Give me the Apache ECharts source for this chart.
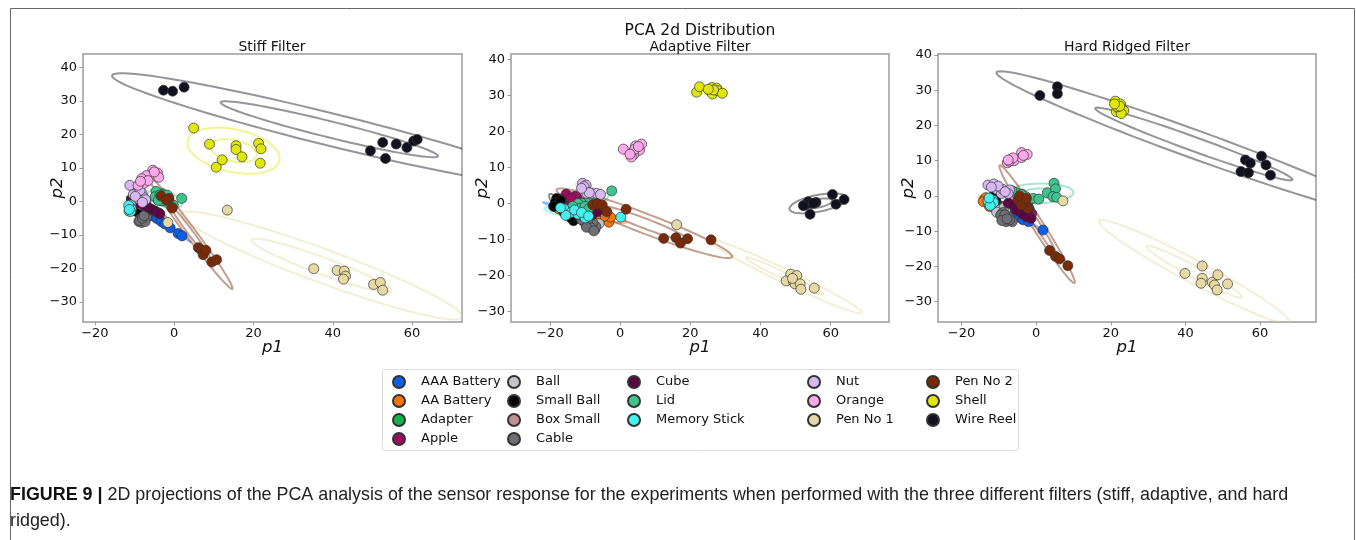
<!DOCTYPE html>
<html>
<head>
<meta charset="utf-8">
<script src="https://cdn.jsdelivr.net/npm/echarts@6/dist/echarts.min.js"></script>
<style>
  html, body { margin: 0; padding: 0; background: #fff; }
  #chart { width: 1356px; height: 540px; }
</style>
</head>
<body>
<div id="chart"></div>
<script>
// classes, in legend order
const CATEGORIES = ['AAA Battery', 'AA Battery', 'Adapter', 'Apple', 'Ball', 'Small Ball', 'Box Small', 'Cable',
  'Cube', 'Lid', 'Memory Stick', 'Nut', 'Orange', 'Pen No 1', 'Pen No 2', 'Shell', 'Wire Reel']
const COLORS = ['#0a5ee8', '#f97306', '#10b24a', '#9a0d63', '#c4c4cc', '#000000', '#c09090', '#6e6e74',
  '#5e0342', '#3cc48e', '#40f5f0', '#d8b8f2', '#fca8ea', '#e6d9a4', '#7a2b06', '#e1e60a', '#12121f']

const PANEL_TITLES = ['Stiff Filter', 'Adaptive Filter', 'Hard Ridged Filter']
const X_LIMITS = [[-23, 72.6], [-31.1, 76.6], [-26.3, 75]]
const Y_LIMITS = [[-36, 44], [-32.9, 41.5], [-35.8, 40.3]]

// PCA scores [p1, p2], one list per class (same order as CATEGORIES)
const STIFF = [
  [[-10.2, -0.3], [-8.8, -1.4], [-6.6, -3.2], [-5.2, -4.4], [-4.4, -5.1], [-3.3, -6.0], [-2.4, -6.7], [-1.0, -7.9], [1.0, -9.6], [2.0, -10.3]],
  [[-9.4, -0.9], [-8.8, -1.6], [-9.9, -1.3], [-8.3, -2.1], [-9.1, -2.4], [-10.2, -0.6], [-8.6, -0.7], [-9.7, -2.0], [-7.9, -1.5], [-9.0, -1.1]],
  [[-3.5, 1.6], [-2.8, 0.9], [-4.1, 0.6], [-2.2, 1.8], [-3.0, 2.3], [-1.8, 0.4], [-3.8, 1.2], [-2.5, 0.1], [-4.4, 2.0], [-1.5, 1.3]],
  [[-10.8, 0.6], [-10.3, 0.0], [-9.9, 0.8], [-10.9, -0.4], [-9.5, 0.2], [-10.5, 1.1], [-10.0, -0.6], [-9.3, 0.7], [-10.7, 0.3], [-9.8, -0.2]],
  [[-9.0, 1.4], [-8.4, 0.5], [-9.6, 0.6], [-8.0, 1.2], [-8.9, -0.2], [-9.8, 1.6], [-8.6, 1.9], [-7.7, 0.3], [-9.3, 0.0], [-8.2, -0.6]],
  [[-9.1, -2.6], [-8.6, -1.5], [-9.8, -1.0], [-8.2, -2.9], [-9.4, -3.1], [-10.2, -0.4], [-8.8, -2.0], [-7.9, -1.2], [-9.6, -1.9], [-8.5, -3.4]],
  [[-8.6, -0.4], [-8.0, 0.3], [-7.4, -0.8], [-8.9, 0.8], [-7.8, -1.3], [-7.1, 0.1], [-8.3, -1.0], [-9.2, 0.1], [-7.6, 0.6], [-8.1, -0.2]],
  [[-8.5, -5.2], [-7.8, -4.6], [-8.9, -6.0], [-7.5, -5.5], [-8.2, -6.3], [-7.0, -4.9], [-8.7, -5.7], [-7.3, -6.0], [-8.0, -5.0], [-7.6, -4.3]],
  [[-10.7, 0.6], [-9.6, 0.0], [-8.5, -0.6], [-7.5, -1.2], [-6.5, -1.8], [-5.6, -2.4], [-4.8, -2.9], [-4.0, -3.4], [-3.6, -3.7], [-9.0, -0.4]],
  [[-4.6, 3.0], [-4.8, 1.4], [-3.6, 1.9], [-2.6, 0.8], [-3.2, 0.2], [-0.2, -1.1], [1.9, 0.9], [-0.6, -1.6], [-1.8, 1.9], [-4.0, 0.3]],
  [[-11.3, -1.4], [-11.0, -2.6], [-11.2, -2.0], [-10.9, -1.0], [-11.4, -2.9], [-11.1, -1.7], [-10.8, -2.3], [-11.5, -1.2], [-11.0, -3.0], [-11.3, -2.4]],
  [[-11.2, 4.8], [-9.5, 2.5], [-8.1, 2.4], [-7.8, 1.2], [-9.2, 0.9], [-10.3, 2.0], [-8.6, 3.3], [-7.2, 0.5], [-9.8, 1.5], [-8.0, -0.3]],
  [[-5.4, 9.3], [-4.2, 8.4], [-3.9, 7.2], [-7.0, 7.7], [-8.2, 6.8], [-7.6, 5.4], [-9.1, 4.8], [-6.6, 6.2], [-5.0, 8.8], [-8.5, 6.0]],
  [[13.4, -2.6], [-1.6, -6.3], [35.2, -20.1], [41.1, -20.6], [42.9, -20.8], [43.2, -22.3], [42.7, -23.2], [50.3, -24.8], [52.0, -24.2], [52.6, -26.5]],
  [[-1.3, 0.9], [-0.5, -2.0], [-3.3, 1.6], [-2.0, 0.5], [6.1, -13.8], [6.9, -14.6], [7.3, -15.9], [8.0, -14.6], [9.5, -18.1], [10.7, -17.4]],
  [[4.9, 21.9], [8.9, 17.1], [10.6, 10.2], [12.1, 12.4], [15.6, 16.6], [15.6, 15.5], [17.1, 13.3], [21.3, 17.3], [21.9, 15.7], [21.7, 11.4]],
  [[-2.7, 33.2], [-0.4, 32.9], [2.5, 34.1], [49.5, 15.1], [52.6, 17.6], [53.3, 12.8], [56.0, 17.1], [58.7, 16.1], [60.4, 18.0], [61.3, 18.5]]
]

const ADAPTIVE = [
  [[-19.0, -0.8], [-17.5, -1.2], [-16.0, -1.7], [-14.0, -2.2], [-12.0, -2.8], [-10.5, -3.4], [-9.0, -3.9], [-7.2, -5.0], [-18.2, -1.0], [-15.0, -2.0]],
  [[-5.3, -4.1], [-3.2, -5.2], [-2.7, -3.8], [-4.5, -3.5], [-16.0, -2.0], [-17.5, -1.5], [-14.0, -2.5], [-12.0, -3.0], [-9.0, -3.2], [-7.0, -3.8]],
  [[-8.0, -0.5], [-7.0, 0.2], [-9.0, -1.0], [-6.0, -1.0], [-10.0, 0.3], [-7.5, -1.5], [-8.5, 0.5], [-6.5, -0.3], [-9.5, -0.2], [-7.2, -0.8]],
  [[-15.4, 2.6], [-12.4, 1.7], [-14.2, 0.8], [-16.5, 0.2], [-13.3, -0.5], [-11.5, 0.3], [-15.0, -1.0], [-17.0, 1.2], [-12.8, 2.0], [-14.0, 1.5]],
  [[-16.0, -2.0], [-14.0, -3.0], [-12.0, -3.8], [-10.0, -4.5], [-8.0, -5.0], [-6.0, -5.6], [-13.0, -2.5], [-11.0, -4.0], [-9.0, -4.2], [-15.0, -2.6]],
  [[-18.1, 1.4], [-18.5, 0.2], [-17.6, -0.5], [-13.3, -4.8], [-17.0, 0.8], [-16.5, -1.5], [-15.0, -3.0], [-14.0, -4.0], [-18.8, -0.8], [-16.0, -2.5]],
  [[-12.0, -0.8], [-11.0, -1.6], [-10.0, -2.4], [-9.0, -1.0], [-13.0, -2.0], [-8.0, -2.0], [-11.5, -0.5], [-9.5, -3.0], [-12.5, -1.2], [-10.5, -1.8]],
  [[-10.0, -5.5], [-8.6, -6.2], [-7.2, -7.2], [-6.9, -6.4], [-7.8, -5.3], [-9.3, -5.0], [-8.2, -6.8], [-11.0, -4.5], [-9.6, -6.6], [-7.5, -7.6]],
  [[-13.0, -1.5], [-11.0, -2.0], [-9.0, -2.5], [-7.0, -1.0], [-12.0, -3.0], [-10.0, -1.0], [-8.0, -3.2], [-14.0, -2.4], [-6.5, -2.3], [-10.5, -3.5]],
  [[-2.4, 3.5], [-8.1, 0.8], [-9.7, 0.2], [-11.0, 0.1], [-12.0, 0.0], [-11.4, -1.3], [-10.0, -0.8], [-7.5, -0.2], [-13.5, -0.8], [-9.0, -1.5]],
  [[0.2, -3.8], [-16.0, -1.5], [-14.0, -2.5], [-12.0, -3.0], [-10.0, -4.0], [-13.0, -1.8], [-15.5, -3.3], [-11.0, -2.5], [-9.0, -3.5], [-17.0, -1.2]],
  [[-10.7, 5.6], [-9.7, 5.1], [-10.0, 3.8], [-9.5, 2.8], [-8.1, 2.8], [-6.7, 2.8], [-5.6, 2.5], [-10.3, 4.7], [-8.8, 3.0], [-11.0, 4.2]],
  [[0.9, 15.1], [3.5, 14.2], [4.4, 16.0], [5.5, 14.8], [6.1, 16.5], [3.8, 13.5], [3.2, 12.9], [4.2, 15.1], [5.2, 15.8], [2.8, 13.7]],
  [[16.1, -5.9], [48.6, -19.6], [50.3, -20.0], [47.3, -21.5], [49.4, -21.7], [49.8, -22.3], [51.3, -22.3], [51.5, -23.8], [55.3, -23.5], [49.1, -20.8]],
  [[-7.8, -0.4], [-6.5, -0.1], [-5.1, -0.4], [-3.8, -2.3], [1.7, -1.6], [12.4, -9.7], [15.9, -9.5], [17.2, -11.0], [19.2, -9.8], [25.9, -10.1]],
  [[21.8, 30.9], [22.6, 32.4], [25.4, 31.5], [26.1, 32.2], [26.3, 30.4], [27.5, 32.0], [27.8, 31.3], [29.1, 30.6], [26.6, 31.5], [25.1, 31.7]],
  [[52.7, -0.4], [53.6, 0.5], [54.3, 0.05], [55.8, 0.3], [54.1, -3.0], [60.5, 2.5], [61.5, -0.2], [63.8, 1.1], [52.2, -0.6], [55.1, 0.05]]
]

const HARD_RIDGED = [
  [[1.85, -9.7], [-11.1, -2.1], [-9.5, -2.9], [-8.0, -3.8], [-6.6, -4.9], [-5.5, -5.4], [-4.4, -6.1], [-3.5, -6.8], [-2.0, -7.3], [-10.3, -2.6]],
  [[-13.9, -1.1], [-12.9, -1.9], [-11.1, -3.5], [-10.2, -4.0], [-12.0, -2.6], [-13.5, -0.5], [-11.5, -1.5], [-9.5, -3.5], [-12.5, -3.0], [-14.2, -1.6]],
  [[-4.2, -1.2], [-3.4, -1.8], [-2.5, -1.4], [-5.0, -1.8], [-3.0, -0.8], [-4.6, -0.6], [-2.2, -2.2], [-3.8, -2.5], [-5.4, -1.0], [-2.8, -1.6]],
  [[-5.3, -3.0], [-4.5, -2.4], [-3.6, -3.3], [-2.8, -2.6], [-1.9, -3.6], [-4.0, -4.2], [-2.2, -4.8], [-3.2, -5.3], [-1.2, -5.0], [-5.8, -2.2]],
  [[-9.5, -3.8], [-8.8, -4.4], [-10.0, -4.9], [-9.2, -5.8], [-8.2, -4.0], [-10.3, -3.5], [-9.6, -5.2], [-8.6, -3.3], [-10.6, -4.6], [-9.0, -6.2]],
  [[-11.5, -0.7], [-11.2, -1.3], [-11.9, -0.4], [-11.0, -0.9], [-11.6, -1.6], [-12.0, -1.0], [-11.3, -0.2], [-10.8, -1.4], [-11.8, -1.9], [-11.4, -1.1]],
  [[-5.0, 0.3], [-4.0, 0.0], [-3.2, -0.5], [-5.5, -0.3], [-4.5, -0.8], [-3.8, 0.5], [-6.0, 0.1], [-2.8, -0.2], [-4.8, 0.6], [-3.5, -1.0]],
  [[-8.9, -4.7], [-8.9, -6.4], [-7.5, -5.9], [-6.4, -7.3], [-8.0, -7.3], [-9.5, -5.4], [-8.4, -5.4], [-7.1, -6.8], [-9.2, -7.0], [-7.8, -6.5]],
  [[-7.5, -2.1], [-4.8, -3.0], [-2.3, -4.9], [-1.4, -6.4], [-4.4, -4.5], [-3.1, -4.0], [-6.2, -2.6], [-2.6, -5.9], [-5.3, -4.0], [-3.5, -5.2]],
  [[-0.8, -0.7], [0.7, -0.9], [3.0, 0.9], [4.8, 3.6], [5.2, 2.0], [4.5, -0.2], [5.5, -0.4], [-5.5, 1.0], [-4.0, 0.4], [-6.5, 1.5]],
  [[-12.2, -1.6], [-11.6, -1.2], [-12.8, -2.0], [-11.9, -2.4], [-12.5, -1.0], [-12.0, -2.0], [-12.9, -1.4], [-11.4, -1.9], [-12.3, -2.7], [-12.6, -0.6]],
  [[-12.9, 3.1], [-11.3, 3.4], [-10.6, 1.9], [-9.3, 0.7], [-9.0, 1.9], [-7.1, 1.7], [-7.5, 0.7], [-10.2, 2.8], [-8.3, 1.2], [-12.0, 2.5]],
  [[-7.7, 9.4], [-6.8, 10.4], [-5.9, 10.0], [-3.9, 12.3], [-3.9, 10.9], [-2.4, 11.8], [-7.2, 9.9], [-6.2, 10.8], [-3.4, 11.5], [-7.5, 10.2]],
  [[7.2, -1.4], [39.9, -22.0], [44.5, -19.9], [44.5, -23.4], [44.2, -24.8], [47.2, -24.5], [47.8, -25.3], [48.5, -26.7], [48.7, -22.4], [51.3, -25.0]],
  [[3.6, -15.5], [5.2, -17.2], [6.3, -17.9], [8.5, -19.8], [-4.8, -1.1], [-3.1, -1.9], [-2.2, -3.5], [-3.9, -2.6], [-4.4, 0.0], [-2.6, -0.7]],
  [[21.2, 26.9], [22.6, 26.1], [23.3, 24.4], [21.5, 23.9], [22.1, 24.9], [23.5, 24.2], [22.8, 23.4], [21.7, 25.3], [22.4, 25.5], [21.0, 26.1]],
  [[1.0, 28.5], [5.7, 31.0], [5.7, 29.0], [56.1, 10.2], [57.4, 9.3], [60.4, 11.3], [61.6, 8.8], [62.8, 5.9], [54.9, 6.9], [56.9, 6.6]]
]

const PANELS = [STIFF, ADAPTIVE, HARD_RIDGED]
const N_STD = [1, 2]
const LEGEND_COLUMNS = [[0, 1, 2, 3], [4, 5, 6, 7], [8, 9, 10], [11, 12, 13], [14, 15, 16]]

const FONT = 'DejaVu Sans'
const GRID_LEFT = [83, 511, 938]
const Y_NAME_GAP = [17, 20, 21]

function rgba(hex, a) {
  const n = parseInt(hex.slice(1), 16)
  return 'rgba(' + (n >> 16) + ',' + ((n >> 8) & 255) + ',' + (n & 255) + ',' + a + ')'
}

// mean, sample std and pearson r of a point cloud (same as np.cov)
function stats(points) {
  const n = points.length
  let mx = 0, my = 0
  points.forEach(p => { mx += p[0]; my += p[1] })
  mx /= n; my /= n
  let sxx = 0, syy = 0, sxy = 0
  points.forEach(p => {
    sxx += (p[0] - mx) * (p[0] - mx)
    syy += (p[1] - my) * (p[1] - my)
    sxy += (p[0] - mx) * (p[1] - my)
  })
  sxx /= (n - 1); syy /= (n - 1); sxy /= (n - 1)
  const sx = Math.sqrt(sxx), sy = Math.sqrt(syy)
  const rho = sx > 0 && sy > 0 ? sxy / (sx * sy) : 0
  return [mx, my, sx, sy, rho]
}

// confidence ellipse, drawn in data space then mapped through the axes
function renderEllipse(color) {
  return function(params, api) {
    const mx = api.value(0), my = api.value(1), sx = api.value(2), sy = api.value(3)
    const rho = Math.max(-0.9999, Math.min(0.9999, api.value(4))), k = api.value(5)
    const rx = Math.sqrt(1 + rho), ry = Math.sqrt(1 - rho)
    const pts = []
    for (let i = 0; i <= 90; i++) {
      const t = i / 90 * Math.PI * 2
      const u = rx * Math.cos(t), v = ry * Math.sin(t)
      const a = (u - v) * Math.SQRT1_2, b = (u + v) * Math.SQRT1_2
      pts.push(api.coord([mx + a * sx * k, my + b * sy * k]))
    }
    const cs = params.coordSys
    return {
      type: 'polyline',
      shape: { points: pts },
      style: { fill: null, stroke: rgba(color, 0.45), lineWidth: 2 },
      clipPath: { type: 'rect', shape: { x: cs.x, y: cs.y, width: cs.width, height: cs.height } },
      silent: true
    }
  }
}

const minus = v => (v < 0 ? '\u2212' + Math.abs(v) : String(v))

const grid = [], xAxis = [], yAxis = [], series = [], title = []
title.push({
  text: 'PCA 2d Distribution', left: 700, top: 23, textAlign: 'center', padding: 0,
  textStyle: { fontFamily: FONT, fontSize: 15.5, fontWeight: 'normal', color: '#111' }
})

PANELS.forEach((panel, p) => {
  grid.push({ left: GRID_LEFT[p], top: 54, width: p === 0 ? 379 : 378, height: 268, show: true, borderColor: '#9a9a9a', borderWidth: 1.5, backgroundColor: '#fff' })
  title.push({
    text: PANEL_TITLES[p], left: GRID_LEFT[p] + 189, top: 40, textAlign: 'center', padding: 0,
    textStyle: { fontFamily: FONT, fontSize: 14, fontWeight: 'normal', color: '#111' }
  })
  const axisCommon = {
    gridIndex: p,
    type: 'value',
    splitLine: { show: false },
    axisLine: { show: false, onZero: false },
    axisTick: { show: true, length: 3.5, lineStyle: { color: '#9a9a9a' } },
    nameLocation: 'middle',
    nameMoveOverlap: false,
    nameTextStyle: { fontFamily: FONT, fontSize: 16.5, fontStyle: 'italic', color: '#111' }
  }
  xAxis.push(Object.assign({}, axisCommon, {
    min: X_LIMITS[p][0], max: X_LIMITS[p][1], splitNumber: 5,
    name: 'p1', nameGap: 17,
    axisLabel: { showMinLabel: false, showMaxLabel: false, margin: 5, fontFamily: FONT, fontSize: 13, color: '#111', formatter: minus }
  }))
  yAxis.push(Object.assign({}, axisCommon, {
    min: Y_LIMITS[p][0], max: Y_LIMITS[p][1], splitNumber: 8,
    name: 'p2', nameGap: Y_NAME_GAP[p],
    axisLabel: { showMinLabel: false, showMaxLabel: false, margin: 6, fontFamily: FONT, fontSize: 13, color: '#111', formatter: minus }
  }))

  panel.forEach((pts, c) => {
    const st = stats(pts)
    series.push({
      type: 'custom',
      xAxisIndex: p,
      yAxisIndex: p,
      z: 1,
      silent: true,
      renderItem: renderEllipse(COLORS[c]),
      data: N_STD.map(k => st.concat([k]))
    })
  })
  panel.forEach((pts, c) => {
    series.push({
      name: CATEGORIES[c],
      type: 'scatter',
      xAxisIndex: p,
      yAxisIndex: p,
      z: 3,
      symbolSize: 10,
      itemStyle: { color: COLORS[c], opacity: 1, borderColor: '#333', borderWidth: 0.7 },
      data: pts
    })
  })
})

const LEGEND_LEFT = [392, 507, 627, 807, 926]
const legend = LEGEND_COLUMNS.map((col, i) => ({
  orient: 'vertical',
  left: LEGEND_LEFT[i],
  top: 375,
  padding: 0,
  itemWidth: 12,
  itemHeight: 12,
  itemGap: 5,
  icon: 'circle',
  selectedMode: false,
  data: col.map(c => CATEGORIES[c]),
  formatter: '{t|{name}}',
  textStyle: {
    fontFamily: FONT, fontSize: 13, color: '#111',
    rich: { t: { fontFamily: FONT, fontSize: 13, color: '#111', padding: [0, 0, 0, 11] } }
  }
}))

const chart = echarts.init(document.getElementById('chart'), null, { renderer: 'canvas' })
chart.setOption({
  animation: false,
  backgroundColor: '#fff',
  title: title,
  grid: grid,
  xAxis: xAxis,
  yAxis: yAxis,
  legend: legend,
  series: series,
  graphic: [
    { type: 'rect', left: 8, top: 6, z: -10, silent: true, shape: { width: 1344, height: 600 }, style: { fill: 'none', stroke: '#666', lineWidth: 1 } },
    { type: 'rect', left: 382, top: 369, z: -5, silent: true, shape: { width: 636, height: 81, r: 3 }, style: { fill: '#fff', stroke: '#dcdcdc', lineWidth: 1 } },
    {
      type: 'text', left: 10, top: 486, silent: true,
      style: {
        text: '{b|FIGURE 9 |} 2D projections of the PCA analysis of the sensor response for the experiments when performed with the three different filters (stiff, adaptive, and hard',
        font: '17.9px "Liberation Sans"', fill: '#222',
        rich: { b: { fontFamily: 'Liberation Sans', fontSize: 17.9, fontWeight: 'bold', fill: '#111' } }
      }
    },
    { type: 'text', left: 10, top: 512, silent: true, style: { text: 'ridged).', font: '17.9px "Liberation Sans"', fill: '#222' } }
  ]
})
</script>
</body>
</html>
